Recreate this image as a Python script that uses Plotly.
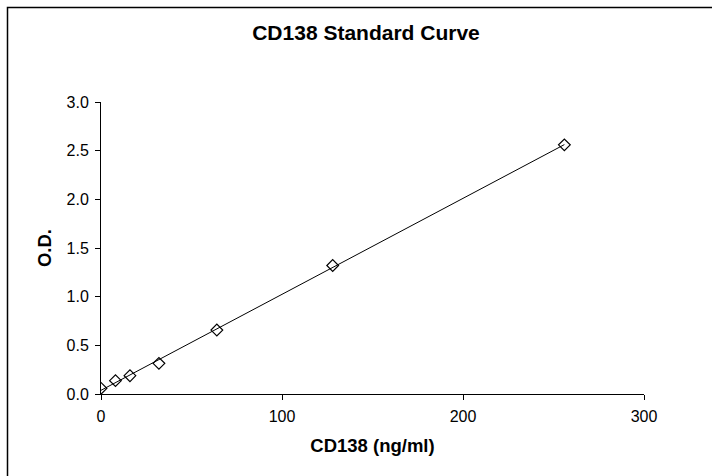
import numpy as np
import plotly.graph_objects as go

conc = [0, 8, 16, 32, 64, 128, 256]
od = [0.058, 0.137, 0.188, 0.315, 0.657, 1.32, 2.56]
x_ticks = [0, 100, 200, 300]
y_ticks = [0.0, 0.5, 1.0, 1.5, 2.0, 2.5, 3.0]

slope, intercept = np.polyfit(conc, od, 1)
fit_x = [min(conc), max(conc)]
fit_y = [slope * v + intercept for v in fit_x]

W, H = 712, 476
L, R, T, B = 101, 68, 102, 82
FONT = "Liberation Sans, Arial, sans-serif"

fig = go.Figure()
fig.add_trace(go.Scatter(x=fit_x, y=fit_y, mode="lines",
                         line=dict(color="black", width=1), hoverinfo="skip",
                         showlegend=False))
fig.add_trace(go.Scatter(x=conc, y=od, mode="markers",
                         marker=dict(symbol="diamond-open", size=9, color="black",
                                     line=dict(color="black", width=1.2)),
                         showlegend=False))

pw = W - L - R
ph = H - T - B
# outer chart frame (extends past right/bottom edges)
fig.add_shape(type="rect", xref="paper", yref="paper",
              x0=(7.5 - L) / pw, x1=(W + 20 - L) / pw,
              y0=-(B + 20) / ph, y1=(H - 7.5 - B) / ph,
              line=dict(color="black", width=1.5), layer="below")

axis_common = dict(showgrid=False, zeroline=False, showline=True,
                   linecolor="black", linewidth=1, ticks="outside",
                   ticklen=5, tickwidth=1, tickcolor="black",
                   tickfont=dict(family=FONT, size=16, color="black"))

fig.update_layout(
    width=W, height=H,
    margin=dict(l=L, r=R, t=T, b=B, autoexpand=False),
    paper_bgcolor="white", plot_bgcolor="white",
    title=dict(text="<b>CD138 Standard Curve</b>", x=366 / W, xanchor="center",
               y=1 - 33 / H, yanchor="middle",
               font=dict(family=FONT, size=21, color="black")),
    xaxis=dict(range=[0, 300], tickvals=x_ticks,
               ticktext=[str(v) for v in x_ticks], ticklabelstandoff=3,
               title=dict(text="<b>CD138 (ng/ml)</b>", standoff=14,
                          font=dict(family=FONT, size=18.5, color="black")),
               **axis_common),
    yaxis=dict(range=[0, 3.0], tickvals=y_ticks,
               ticktext=[f"{v:.1f}" for v in y_ticks], ticklabelstandoff=3,
               title=dict(text="<b>O.D.</b>", standoff=10,
                          font=dict(family=FONT, size=18.5, color="black")),
               **axis_common),
)

fig.write_html("out.html", config={"displayModeBar": False},
               post_script="document.body.style.margin='0';"
                           "document.body.style.overflow='hidden';")
